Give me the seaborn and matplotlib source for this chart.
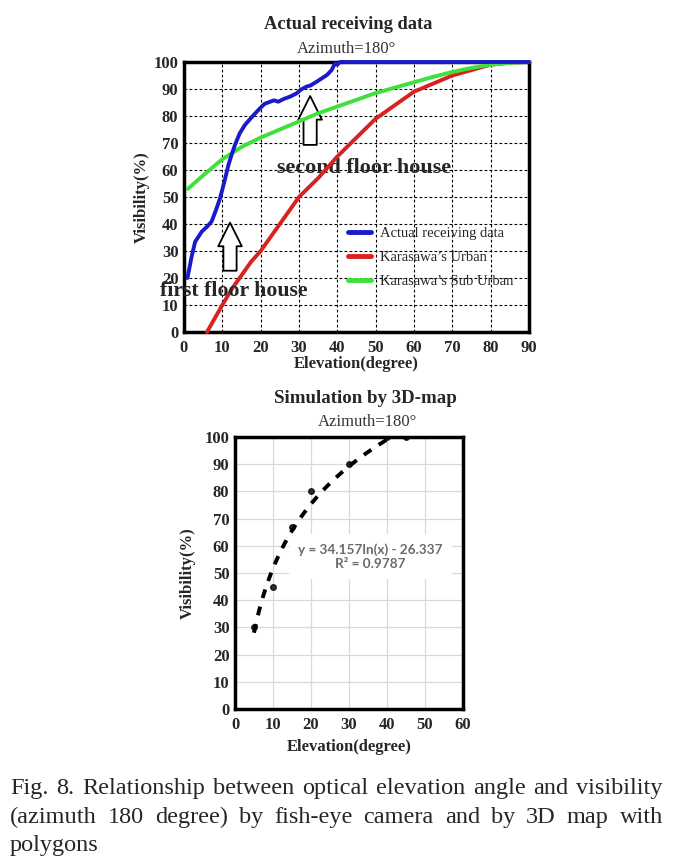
import numpy as np
import pandas as pd
import matplotlib
matplotlib.use("Agg")
import matplotlib.pyplot as plt
import seaborn as sns

# fish-eye camera, azimuth 180 deg
actual_elev = [0.9, 2, 2.9, 4.6, 6, 7.2, 8.3, 9.4, 10.5, 11.6, 12.5, 13.3, 14.5, 15.9, 17.8, 19.8,
               21, 22.5, 23.5, 24.6, 26, 27.7, 29.4, 30.5, 32, 33, 34.6, 36, 37.3, 38.5, 39.4, 40,
               40.7, 50, 60, 70, 80, 90]
actual_vis = [20, 28, 33.4, 37.1, 39, 40.9, 45, 49.5, 55.5, 61.9, 66, 69.3, 73.5, 76.7, 79.8, 82.8,
              84.5, 85.3, 85.8, 85.3, 86.3, 87.2, 88.4, 89.8, 90.9, 91.3, 92.7, 94, 95.2, 97, 99.5, 99,
              100, 100, 100, 100, 100, 100]

urban_elev = [6, 8, 10, 12.5, 15, 17.5, 20, 22.5, 25, 27.5, 30, 35, 40, 45, 50, 55, 60, 65, 70, 75, 80, 85, 90]
urban_vis = [0, 5, 10, 16, 21, 26, 30, 35, 40, 45, 50, 57, 65, 72, 79, 84, 89, 92, 95, 97, 99, 99.8, 100]

suburban_elev = [1, 5, 10, 15, 20, 25, 30, 35, 40, 45, 50, 55, 60, 65, 70, 75, 80, 85, 90]
suburban_vis = [53, 58, 64, 68.5, 72, 75, 78, 81, 83.5, 86, 88.5, 90.5, 92.5, 94.5, 96.3, 97.8, 99, 99.7, 100]

# 3D-map simulation
sim_elev = [5, 10, 15, 20, 30, 40, 45]
sim_vis = [30, 45, 67, 80, 90, 100, 100]

series_names = ["Actual receiving data", "Karasawa\u2019s Urban", "Karasawa\u2019s Sub Urban"]
series_colors = ["#1a1acb", "#d8221f", "#3fe03b"]

caption_lines = [
    "Fig. 8. Relationship between optical elevation angle and visibility",
    "(azimuth 180 degree) by fish-eye camera and by 3D map with",
    "polygons",
]

sns.set_style("white")
plt.rcParams["font.family"] = ["Liberation Serif", "DejaVu Serif"]

W, H = 685, 861
fig = plt.figure(figsize=(W / 100, H / 100), dpi=100)
ax1 = fig.add_axes([184 / W, 1 - 332 / H, 345 / W, 270 / H])
ax2 = fig.add_axes([235 / W, 1 - 709 / H, 228 / W, 272 / H])

# ---- top chart: actual receiving data
df = pd.concat([
    pd.DataFrame({"Elevation": actual_elev, "Visibility": actual_vis, "series": series_names[0]}),
    pd.DataFrame({"Elevation": urban_elev, "Visibility": urban_vis, "series": series_names[1]}),
    pd.DataFrame({"Elevation": suburban_elev, "Visibility": suburban_vis, "series": series_names[2]}),
])
sns.lineplot(data=df, x="Elevation", y="Visibility", hue="series", hue_order=series_names,
             palette=dict(zip(series_names, series_colors)), estimator=None, sort=False,
             lw=2.8, ax=ax1)
# lines sit on the top frame at 100 %, keep them visible; blue on top
for k, ln in enumerate(ax1.get_lines()[:3]):
    ln.set_clip_on(False)
    ln.set_zorder(6 if k == 0 else 4)

ax1.set_xlim(0, 90)
ax1.set_ylim(0, 100)
ax1.set_xticks(range(0, 91, 10))
ax1.set_yticks(range(0, 101, 10))
ax1.grid(True, color="black", ls=(0, (2.5, 2)), lw=0.8)
for s in ax1.spines.values():
    s.set_linewidth(2.5)
    s.set_color("black")
    s.set_zorder(3)
ax1.tick_params(length=0, labelsize=12)
ax1.tick_params(axis="x", pad=6)
ax1.tick_params(axis="y", pad=4)
for lab in ax1.get_xticklabels() + ax1.get_yticklabels():
    lab.set_fontweight("bold")
ax1.set_xlabel("Elevation(degree)", fontsize=12, fontweight="bold", labelpad=0)
ax1.set_ylabel("Visibility(%)", fontsize=12, fontweight="bold", labelpad=3)

leg = ax1.legend(loc="upper left", bbox_to_anchor=(0.475, 0.39), frameon=False, fontsize=10.5,
                 borderpad=0, borderaxespad=0, labelspacing=0.75, handlelength=1.6,
                 handletextpad=0.6)
for h in leg.get_lines():
    h.set_linewidth(3.5)

ax1.text(24.3, 60.7, "second floor house", fontsize=15.8, fontweight="bold", va="center", ha="left")
ax1.text(-6.3, 13.4, "first floor house", fontsize=15.7, fontweight="bold", va="baseline", ha="left",
         clip_on=False, zorder=5)
arrow_style = "simple,head_length=1.7,head_width=1.7,tail_width=0.95"
for x, y0, y1 in [(32.9, 69.3, 87.4), (12, 22.7, 40.5)]:
    ax1.annotate("", xy=(x, y1), xytext=(x, y0),
                 arrowprops=dict(arrowstyle=arrow_style, mutation_scale=10, fc="white",
                                 ec="black", lw=1.3, shrinkA=0, shrinkB=0))

fig.text(348 / W, 1 - 29 / H, "Actual receiving data", ha="center", va="baseline",
         fontsize=13.3, fontweight="bold")
fig.text(347 / W, 1 - 53 / H, "Azimuth=180\u00b0", ha="center", va="baseline",
         fontsize=12, color="#333333")

# ---- bottom chart: simulation by 3D map with log trendline
sns.regplot(x=sim_elev, y=sim_vis, logx=True, ci=None, ax=ax2,
            scatter_kws={"s": 16, "color": "black", "zorder": 3},
            line_kws={"color": "black", "lw": 2.8, "ls": (0, (2.3, 2.3))})
ax2.set_xlim(0, 60)
ax2.set_ylim(0, 100)
ax2.set_xticks(range(0, 61, 10))
ax2.set_yticks(range(0, 101, 10))
ax2.grid(True, color="#d9d9d9", lw=0.9)
ax2.set_axisbelow(True)
for s in ax2.spines.values():
    s.set_linewidth(2.5)
    s.set_color("black")
ax2.tick_params(length=0, labelsize=12)
ax2.tick_params(axis="x", pad=6)
ax2.tick_params(axis="y", pad=4)
for lab in ax2.get_xticklabels() + ax2.get_yticklabels():
    lab.set_fontweight("bold")
ax2.set_xlabel("Elevation(degree)", fontsize=12, fontweight="bold", labelpad=4)
ax2.set_ylabel("Visibility(%)", fontsize=12, fontweight="bold", labelpad=6)
ax2.text(35.6, 56, "y = 34.157ln(x) - 26.337\nR\u00b2 = 0.9787", ha="center", va="center",
         fontsize=9.8, fontweight="bold", color="#6b6b6b", family=["Lato", "DejaVu Sans"],
         linespacing=1.15,
         bbox=dict(boxstyle="square,pad=0.7", fc="white", ec="none"), zorder=2)

fig.text(365 / W, 1 - 403 / H, "Simulation by 3D-map", ha="center", va="baseline",
         fontsize=13.6, fontweight="bold")
fig.text(368 / W, 1 - 426 / H, "Azimuth=180\u00b0", ha="center", va="baseline",
         fontsize=12, color="#333333")

# ---- caption, justified like the paper
renderer = fig.canvas.get_renderer()
cap_x0, cap_x1 = 10, 663
cap_baselines = [794, 823, 851]
for i, (line, yb) in enumerate(zip(caption_lines, cap_baselines)):
    words = line.split()
    texts = [fig.text(0, 1 - yb / H, w, fontsize=17.5, va="baseline", ha="left",
                      family=["Liberation Serif"]) for w in words]
    widths = [t.get_window_extent(renderer).width for t in texts]
    if i < len(caption_lines) - 1 and len(words) > 1:
        gap = (cap_x1 - cap_x0 - sum(widths)) / (len(words) - 1)
    else:
        gap = 5
    x = cap_x0
    for t, w in zip(texts, widths):
        t.set_x(x / W)
        x += w + gap

fig.savefig("out.png", dpi=100)
